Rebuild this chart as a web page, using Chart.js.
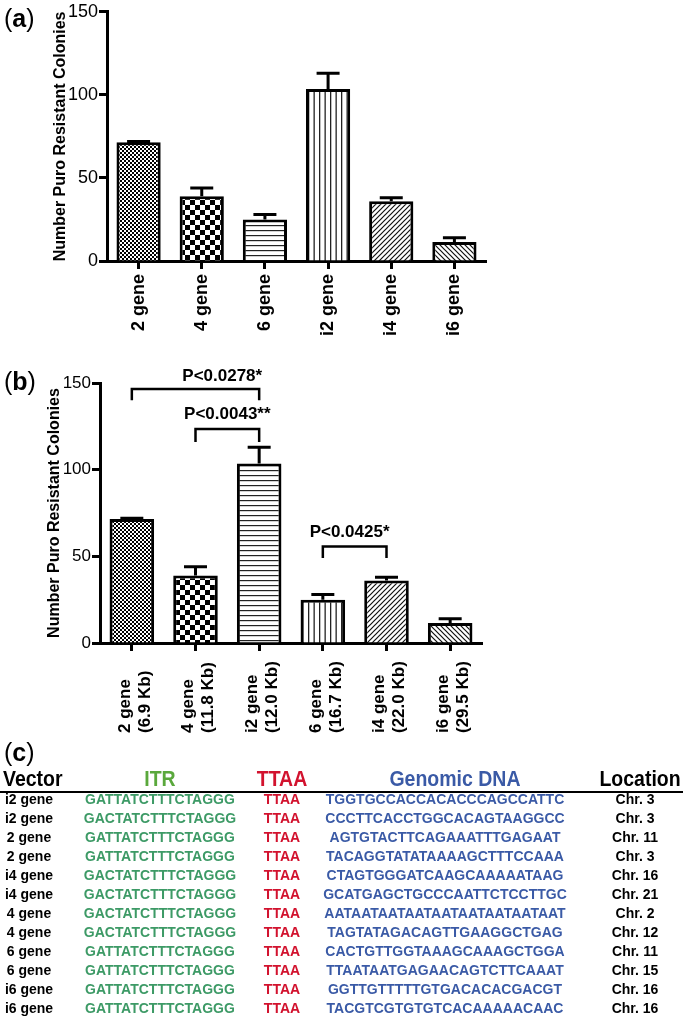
<!DOCTYPE html>
<html><head><meta charset="utf-8">
<script src="https://cdn.jsdelivr.net/npm/chart.js@4.4.1/dist/chart.umd.min.js"></script>
<style>
html,body{margin:0;padding:0;background:#fff;}
body{width:683px;height:1018px;position:relative;overflow:hidden;font-family:"Liberation Sans",Arial,sans-serif;color:#000;}
.cv{position:absolute;left:0;}
.panel{position:absolute;left:4px;font-size:25px;line-height:26px;height:26px;white-space:nowrap;}
.panel b{font-weight:bold;}
.cell{position:absolute;white-space:nowrap;font-weight:bold;font-size:14px;line-height:19px;height:19px;text-align:center;width:300px;transform:scaleY(1.08);}
.hdr{position:absolute;white-space:nowrap;font-weight:bold;font-size:19.5px;line-height:22px;height:22px;text-align:center;width:300px;transform:scaleY(1.1);}
</style></head><body>
<canvas id="ca" class="cv" width="683" height="345" style="top:0"></canvas>
<canvas id="cb" class="cv" width="683" height="400" style="top:345px"></canvas>
<div class="panel" style="top:5px">(<b>a</b>)</div>
<div class="panel" style="top:368px">(<b>b</b>)</div>
<div class="panel" style="top:739px">(<b>c</b>)</div>
<div id="table"></div>
<script>
// ---------- data ----------
const categoriesA = ['2 gene', '4 gene', '6 gene', 'i2 gene', 'i4 gene', 'i6 gene'];
const meanA = [71.5, 39, 25, 103.5, 36, 11.5];
const semA  = [0.5, 5, 3, 9.5, 2, 2.5];

const categoriesB = [['2 gene', '(6.9 Kb)'], ['4 gene', '(11.8 Kb)'], ['i2 gene', '(12.0 Kb)'],
                     ['6 gene', '(16.7 Kb)'], ['i4 gene', '(22.0 Kb)'], ['i6 gene', '(29.5 Kb)']];
const meanB = [71.5, 39, 103.5, 25, 36, 11.5];
const semB  = [0.5, 5, 9.5, 3, 2, 2.5];

const yTicks = [0, 50, 100, 150];

const sigText = ['P<0.0278*', 'P<0.0043**', 'P<0.0425*'];
const sigFrom = [0, 1, 3];
const sigTo   = [2, 2, 4];

const vectors = ['i2 gene','i2 gene','2 gene','2 gene','i4 gene','i4 gene','4 gene','4 gene','6 gene','6 gene','i6 gene','i6 gene'];
const itrSeq = ['GATTATCTTTCTAGGG','GACTATCTTTCTAGGG','GATTATCTTTCTAGGG','GATTATCTTTCTAGGG','GACTATCTTTCTAGGG','GACTATCTTTCTAGGG',
                'GACTATCTTTCTAGGG','GACTATCTTTCTAGGG','GATTATCTTTCTAGGG','GATTATCTTTCTAGGG','GATTATCTTTCTAGGG','GATTATCTTTCTAGGG'];
const ttaa = 'TTAA';
const genomic = ['TGGTGCCACCACACCCAGCCATTC','CCCTTCACCTGGCACAGTAAGGCC','AGTGTACTTCAGAAATTTGAGAAT','TACAGGTATATAAAAGCTTTCCAAA',
                 'CTAGTGGGATCAAGCAAAAATAAG','GCATGAGCTGCCCAATTCTCCTTGC','AATAATAATAATAATAATAATAATAAT','TAGTATAGACAGTTGAAGGCTGAG',
                 'CACTGTTGGTAAAGCAAAGCTGGA','TTAATAATGAGAACAGTCTTCAAAT','GGTTGTTTTTGTGACACACGACGT','TACGTCGTGTGTCACAAAAACAAC'];
const locations = ['Chr. 3','Chr. 3','Chr. 11','Chr. 3','Chr. 16','Chr. 21','Chr. 2','Chr. 12','Chr. 11','Chr. 15','Chr. 16','Chr. 16'];
const headers = ['Vector', 'ITR', 'TTAA', 'Genomic DNA', 'Location'];

// ---------- annotation placement (data units) ----------
const sigLayout = [
  {bar: 146.5, leg: 140, tx: 1.42, ty: 154},
  {bar: 123.5, leg: 116, tx: 1.50, ty: 132},
  {bar: 55.7,  leg: 49,  tx: 3.42, ty: 64}
];

// ---------- patterns ----------
function makePattern(kind) {
  const c = document.createElement('canvas');
  const g = c.getContext('2d');
  let w = 5, h = 5;
  if (kind === 'fineCheck') { w = h = 4; }
  if (kind === 'coarseCheck') { w = h = 10; }
  if (kind === 'vLines') { w = 11; h = 4; }
  c.width = w; c.height = h;
  g.fillStyle = '#fff'; g.fillRect(0, 0, w, h);
  g.fillStyle = '#000'; g.strokeStyle = '#111';
  if (kind === 'fineCheck') { g.fillRect(0, 0, 2, 2); g.fillRect(2, 2, 2, 2); }
  else if (kind === 'coarseCheck') { g.fillRect(0, 0, 5, 5); g.fillRect(5, 5, 5, 5); }
  else if (kind === 'hLines') { g.fillStyle = '#222'; g.fillRect(0, 0, w, 1.2); }
  else if (kind === 'vLines') { g.fillStyle = '#222'; g.fillRect(0, 0, 1.3, h); g.fillRect(5.5, 0, 1.3, h); }
  else if (kind === 'diagUp') {
    g.lineWidth = 1.2; g.beginPath();
    g.moveTo(0, h); g.lineTo(w, 0); g.moveTo(-1, 1); g.lineTo(1, -1); g.moveTo(w - 1, h + 1); g.lineTo(w + 1, h - 1); g.stroke();
  } else if (kind === 'diagDown') {
    g.lineWidth = 1.2; g.beginPath();
    g.moveTo(0, 0); g.lineTo(w, h); g.moveTo(-1, h - 1); g.lineTo(1, h + 1); g.moveTo(w - 1, -1); g.lineTo(w + 1, 1); g.stroke();
  }
  return g.createPattern(c, 'repeat');
}
const patterns = ['fineCheck', 'coarseCheck', 'hLines', 'vLines', 'diagUp', 'diagDown'].map(makePattern);

// ---------- plugins ----------
const errorBars = {
  id: 'errorBars',
  afterDatasetsDraw(chart, args, opts) {
    const ctx = chart.ctx, meta = chart.getDatasetMeta(0), ys = chart.scales.y;
    const mean = chart.data.datasets[0].data, sem = opts.sem;
    ctx.save(); ctx.strokeStyle = '#000'; ctx.lineWidth = 3;
    meta.data.forEach((bar, i) => {
      const x = bar.x, y0 = ys.getPixelForValue(mean[i]), y1 = ys.getPixelForValue(mean[i] + sem[i]);
      ctx.beginPath(); ctx.moveTo(x, y0); ctx.lineTo(x, y1);
      ctx.moveTo(x - 11.5, y1); ctx.lineTo(x + 11.5, y1); ctx.stroke();
    });
    ctx.restore();
  }
};

const sigPlugin = {
  id: 'sig',
  afterDraw(chart) {
    const ctx = chart.ctx, xs = chart.scales.x, ys = chart.scales.y;
    ctx.save(); ctx.strokeStyle = '#000'; ctx.fillStyle = '#000'; ctx.lineWidth = 2.5;
    ctx.font = 'bold 17px "Liberation Sans", Arial, sans-serif';
    ctx.textAlign = 'center'; ctx.textBaseline = 'middle';
    sigText.forEach((t, i) => {
      const L = sigLayout[i];
      const xa = xs.getPixelForValue(sigFrom[i]), xb = xs.getPixelForValue(sigTo[i]);
      const yb = ys.getPixelForValue(L.bar), yl = ys.getPixelForValue(L.leg);
      ctx.beginPath(); ctx.moveTo(xa, yl); ctx.lineTo(xa, yb); ctx.lineTo(xb, yb); ctx.lineTo(xb, yl); ctx.stroke();
      ctx.fillText(t, xs.getPixelForValue(L.tx), ys.getPixelForValue(L.ty));
    });
    ctx.restore();
  }
};

const multiLabels = {
  id: 'multiLabels',
  afterDraw(chart) {
    const ctx = chart.ctx, xs = chart.scales.x;
    const base = chart.chartArea.bottom + 90;
    ctx.save(); ctx.fillStyle = '#000';
    ctx.font = 'bold 17px "Liberation Sans", Arial, sans-serif';
    ctx.textAlign = 'left'; ctx.textBaseline = 'middle';
    categoriesB.forEach((lines, i) => {
      const x = xs.getPixelForValue(i);
      lines.forEach((t, j) => {
        ctx.save(); ctx.translate(x - 7 + 20 * j, base); ctx.rotate(-Math.PI / 2); ctx.fillText(t, 0, 0); ctx.restore();
      });
    });
    ctx.restore();
  }
};

function makeChart(id, labels, mean, sem, cfg) {
  return new Chart(document.getElementById(id), {
    type: 'bar',
    data: {
      labels: labels,
      datasets: [{
        data: mean,
        backgroundColor: patterns,
        borderColor: '#000',
        borderWidth: 3,
        borderSkipped: 'start',
        categoryPercentage: 1.0,
        barPercentage: 0.7
      }]
    },
    options: {
      responsive: false,
      animation: false,
      devicePixelRatio: 1,
      layout: { padding: cfg.padding },
      plugins: { legend: { display: false }, tooltip: { enabled: false }, errorBars: { sem: sem } },
      scales: {
        x: {
          z: 1,
          offset: true,
          grid: { display: true, drawOnChartArea: false, offset: false, drawTicks: true, tickLength: 8, tickWidth: 3, tickColor: '#000' },
          border: { display: true, width: 3, color: '#000' },
          ticks: {
            display: cfg.nativeX, autoSkip: false, minRotation: 90, maxRotation: 90, padding: 5,
            color: '#000', font: { family: '"Liberation Sans", Arial, sans-serif', size: 18, weight: 'bold' }
          },
          afterFit(s) { s.height = cfg.xHeight; }
        },
        y: {
          z: 1,
          min: 0, max: 150,
          afterBuildTicks(s) { s.ticks = yTicks.map(v => ({ value: v })); },
          grid: { display: true, drawOnChartArea: false, drawTicks: true, tickLength: 8, tickWidth: 3, tickColor: '#000' },
          border: { display: true, width: 3, color: '#000' },
          ticks: { padding: 1, color: '#000', font: { family: '"Liberation Sans", Arial, sans-serif', size: cfg.tickSize } },
          title: {
            display: true, text: 'Number Puro Resistant Colonies', color: '#000',
            font: { family: '"Liberation Sans", Arial, sans-serif', size: 16, weight: 'bold' },
            padding: { top: cfg.titlePad, bottom: 0 }
          },
          afterFit(s) { s.width = cfg.yWidth; }
        }
      }
    },
    plugins: cfg.plugins
  });
}

makeChart('ca', categoriesA, meanA, semA, {
  padding: { top: 10, right: 197, bottom: 0, left: 0 },
  xHeight: 84, yWidth: 107, tickSize: 18, titlePad: 51, nativeX: true,
  plugins: [errorBars]
});
makeChart('cb', categoriesB, meanB, semB, {
  padding: { top: 38, right: 201, bottom: 0, left: 0 },
  xHeight: 102, yWidth: 100, tickSize: 17, titlePad: 45, nativeX: false,
  plugins: [errorBars, sigPlugin, multiLabels]
});

// ---------- table (c) ----------
const tbl = document.getElementById('table');
const colCenters = [29, 160, 282, 445, 635];
const hdrCenters = [null, 160, 282, 455, 640];
const hdrColors = ['#000', '#5aa83c', '#d2122e', '#3a5aa6', '#000'];
const rowColors = ['#000', '#3d9a66', '#d2122e', '#3a5aa6', '#000'];
headers.forEach((h, k) => {
  const d = document.createElement('div');
  d.className = 'hdr'; d.textContent = h; d.style.color = hdrColors[k]; d.style.top = '767px';
  if (k === 0) { d.style.left = '3px'; d.style.textAlign = 'left'; }
  else d.style.left = (hdrCenters[k] - 150) + 'px';
  tbl.appendChild(d);
});
const rule = document.createElement('div');
rule.style.cssText = 'position:absolute;left:0;top:791px;width:683px;height:1.5px;background:#000;';
tbl.appendChild(rule);
vectors.forEach((v, i) => {
  const vals = [v, itrSeq[i], ttaa, genomic[i], locations[i]];
  vals.forEach((t, k) => {
    const d = document.createElement('div');
    d.className = 'cell'; d.textContent = t; d.style.color = rowColors[k];
    d.style.top = (799 + 19 * i - 9.5) + 'px';
    d.style.left = (colCenters[k] - 150) + 'px';
    tbl.appendChild(d);
  });
});
</script>
</body></html>
